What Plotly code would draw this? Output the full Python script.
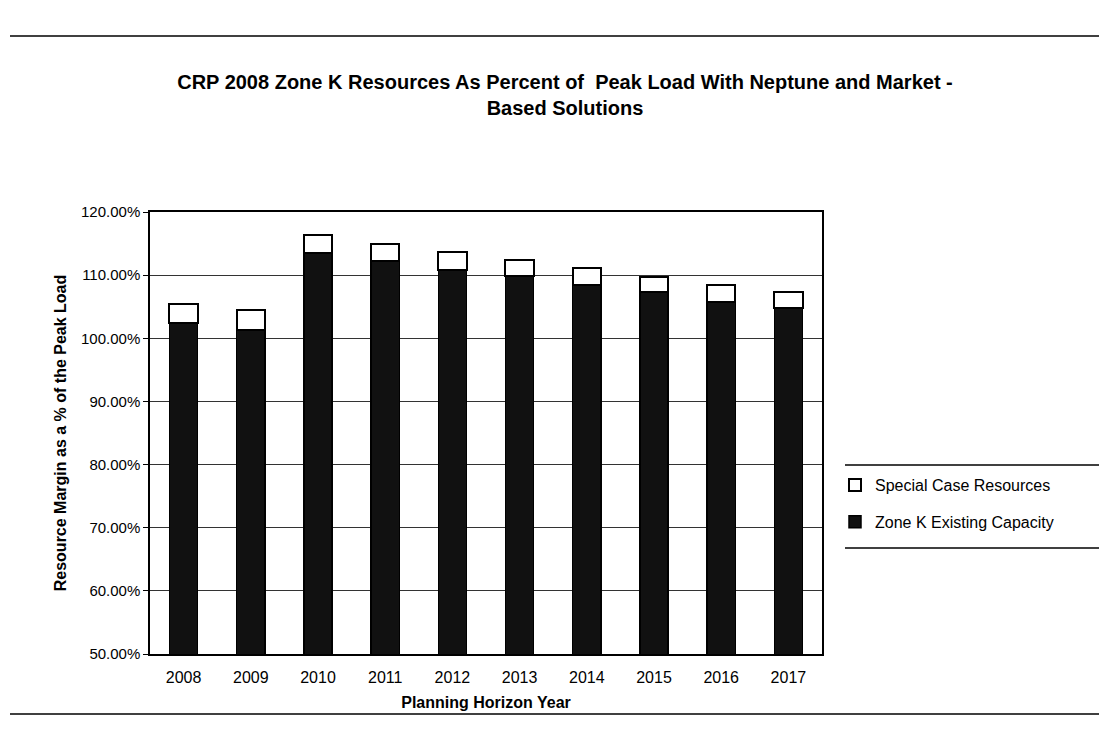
import plotly.graph_objects as go

years = ["2008", "2009", "2010", "2011", "2012", "2013", "2014", "2015", "2016", "2017"]
existing_capacity = [102.4, 101.3, 113.5, 112.3, 110.8, 109.8, 108.5, 107.3, 105.8, 104.8]
special_case = [3.1, 3.2, 2.8, 2.7, 2.9, 2.6, 2.6, 2.4, 2.6, 2.5]
y_ticks = [50, 60, 70, 80, 90, 100, 110, 120]
y_tick_labels = ["50.00%", "60.00%", "70.00%", "80.00%", "90.00%", "100.00%", "110.00%", "120.00%"]

FONT = "Liberation Sans, Arial, sans-serif"

fig = go.Figure()
fig.add_trace(go.Bar(
    x=years, y=existing_capacity, name="Zone K Existing Capacity",
    marker=dict(color="#111111", line=dict(color="black", width=1.5)),
    legendrank=2, legendgroup="zone",
))
fig.add_trace(go.Bar(
    x=years, y=special_case, name="Special Case Resources",
    marker=dict(color="white", line=dict(color="black", width=2)),
    legendrank=1, legendgroup="scr",
))

fig.update_layout(
    barmode="stack",
    bargap=0.58,
    width=1099, height=744,
    margin=dict(l=150, r=277, t=212, b=90),
    paper_bgcolor="white",
    plot_bgcolor="white",
    font=dict(family=FONT, color="black"),
    title=dict(
        text="<b>CRP 2008 Zone K Resources As Percent of  Peak Load With Neptune and Market -<br>Based Solutions</b>",
        x=565/1099, xanchor="center", xref="container",
        y=1-89/744, yanchor="top", yref="container",
        font=dict(size=20, family=FONT),
    ),
    xaxis=dict(
        title=dict(text="<b>Planning Horizon Year</b>", font=dict(size=16), standoff=12),
        tickfont=dict(size=16), showline=True, linecolor="black", linewidth=1.5,
        mirror=True, ticks="", ticklabelstandoff=8,
    ),
    yaxis=dict(
        title=dict(text="<b>Resource Margin as a % of the Peak Load</b>", font=dict(size=16), standoff=10),
        range=[50, 120], tickvals=y_ticks, ticktext=y_tick_labels,
        tickfont=dict(size=15), showline=True, linecolor="black", linewidth=1.5,
        mirror=True, ticks="outside", ticklen=5, tickcolor="black",
        showgrid=True, gridcolor="#333333", gridwidth=1.3,
    ),
    legend=dict(
        x=(835-150)/672, xanchor="left", y=(654-468)/442, yanchor="top",
        traceorder="grouped", tracegroupgap=13,
        font=dict(size=16), bgcolor="rgba(0,0,0,0)",
    ),
    showlegend=True,
)

# legend frame lines and page rules
for yy in [465, 548]:
    fig.add_shape(type="line", xref="paper", yref="paper",
                  x0=(845-150)/672, x1=(1099-150)/672,
                  y0=(654-yy)/442, y1=(654-yy)/442,
                  line=dict(color="black", width=1.5))
for yy in [36, 714]:
    fig.add_shape(type="line", xref="paper", yref="paper",
                  x0=(10-150)/672, x1=(1099-150)/672,
                  y0=(654-yy)/442, y1=(654-yy)/442,
                  line=dict(color="black", width=1.5))

fig.write_html("out.html")
